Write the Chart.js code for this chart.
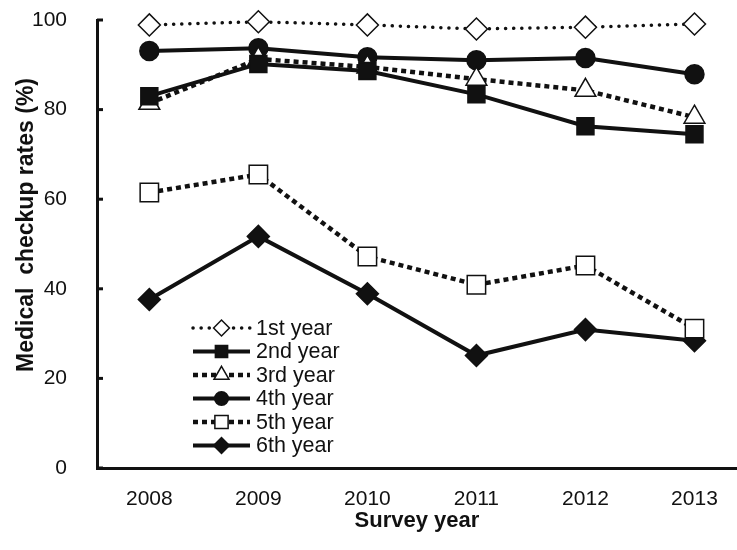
<!DOCTYPE html>
<html>
<head>
<meta charset="utf-8">
<script src="https://cdn.jsdelivr.net/npm/chart.js@4.4.0/dist/chart.umd.min.js"></script>
<style>
  html, body { margin: 0; padding: 0; background: #fff; }
  #wrap { width: 737px; height: 550px; }
</style>
</head>
<body>
<div id="wrap"><canvas id="checkupChart" width="737" height="550"></canvas></div>
<script>
const years = [2008, 2009, 2010, 2011, 2012, 2013];
const seriesNames = ['1st year', '2nd year', '3rd year', '4th year', '5th year', '6th year'];
const year1 = [98.9, 99.6, 98.9, 98.0, 98.4, 99.1];
const year2 = [83.0, 90.2, 88.6, 83.4, 76.3, 74.5];
const year3 = [81.4, 91.3, 89.5, 86.8, 84.3, 78.3];
const year4 = [93.1, 93.7, 91.7, 91.0, 91.5, 87.9];
const year5 = [61.5, 65.5, 47.2, 40.9, 45.2, 31.1];
const year6 = [37.6, 51.7, 38.9, 25.1, 30.9, 28.4];
const yTicks = [0, 20, 40, 60, 80, 100];
const yTitle = 'Medical  checkup rates (%)';

const ink = '#111';
const fontFamily = "'Liberation Sans', Arial, sans-serif";

function toPoints(values) {
    return values.map((v, i) => ({ x: years[i], y: v }));
}

// line look + marker look for each year group
const styles = [
    { dash: [0.1, 8], cap: 'round', width: 3.5, point: 'rectRot', radius: 11, fill: '#fff' },
    { dash: [], cap: 'butt', width: 4, point: 'rect', radius: 12, fill: ink },
    { dash: [5, 4], cap: 'butt', width: 4.5, point: 'triangle', radius: 12, fill: '#fff' },
    { dash: [], cap: 'butt', width: 4, point: 'circle', radius: 9.5, fill: ink },
    { dash: [5, 4], cap: 'butt', width: 4.5, point: 'rect', radius: 13, fill: '#fff' },
    { dash: [], cap: 'butt', width: 4, point: 'rectRot', radius: 11, fill: ink },
];
const allValues = [year1, year2, year3, year4, year5, year6];

const datasets = allValues.map((vals, i) => ({
    label: seriesNames[i],
    data: toPoints(vals),
    clip: false,
    borderColor: ink,
    borderWidth: styles[i].width,
    borderDash: styles[i].dash,
    borderCapStyle: styles[i].cap,
    tension: 0,
    pointStyle: styles[i].point,
    pointRadius: styles[i].radius,
    pointHoverRadius: styles[i].radius,
    pointBackgroundColor: styles[i].fill,
    pointBorderColor: ink,
    pointBorderWidth: 1.5,
}));

// legend drawn inside the plot, line sample + marker like the original figure
const insideLegend = {
    id: 'insideLegend',
    afterDatasetsDraw(chart) {
        const ctx = chart.ctx;
        const x0 = 193, x1 = 250, top = 328, rowH = 23.5;
        ctx.save();
        chart.data.datasets.forEach((ds, i) => {
            const st = styles[i];
            const y = top + i * rowH;
            ctx.strokeStyle = ink;
            ctx.lineWidth = st.width;
            ctx.lineCap = st.cap;
            ctx.setLineDash(st.dash);
            ctx.beginPath();
            ctx.moveTo(x0, y);
            ctx.lineTo(x1, y);
            ctx.stroke();
            ctx.setLineDash([]);
            ctx.fillStyle = st.fill;
            ctx.lineWidth = 1.5;
            Chart.helpers.drawPoint(ctx, {
                pointStyle: st.point,
                radius: st.radius * 0.72,
                rotation: 0,
                borderWidth: 1.5
            }, (x0 + x1) / 2, y);
            ctx.fillStyle = ink;
            ctx.font = "21.5px " + fontFamily;
            ctx.textAlign = 'left';
            ctx.textBaseline = 'middle';
            ctx.fillText(ds.label, 256, y + 1);
        });
        ctx.restore();
    }
};

// short inward tick marks on the y axis, and the rotated y title
const yAxisExtras = {
    id: 'yAxisExtras',
    afterDraw(chart) {
        const ctx = chart.ctx;
        const ys = chart.scales.y;
        const left = chart.chartArea.left;
        ctx.save();
        ctx.strokeStyle = ink;
        ctx.lineWidth = 3;
        yTicks.forEach(v => {
            const py = ys.getPixelForValue(v);
            ctx.beginPath();
            ctx.moveTo(left, py);
            ctx.lineTo(left + 6, py);
            ctx.stroke();
        });
        ctx.translate(27, 225);
        ctx.rotate(-Math.PI / 2);
        ctx.fillStyle = ink;
        ctx.font = "bold 23px " + fontFamily;
        ctx.textAlign = 'center';
        ctx.textBaseline = 'middle';
        ctx.fillText(yTitle, 0, 0);
        ctx.restore();
    }
};

new Chart(document.getElementById('checkupChart'), {
    type: 'line',
    data: { datasets: datasets },
    plugins: [insideLegend, yAxisExtras],
    options: {
        responsive: false,
        animation: false,
        layout: { autoPadding: false, padding: { top: 20, right: 0, bottom: 0, left: 0 } },
        plugins: {
            legend: { display: false },
            tooltip: { enabled: false }
        },
        scales: {
            x: {
                type: 'linear',
                min: 2007.52,
                max: 2013.39,
                afterFit: scale => {
                    scale.height = 82;
                    scale.paddingLeft = 0;
                    scale.paddingRight = 0;
                },
                grid: { display: false },
                border: { display: true, color: ink, width: 3 },
                ticks: {
                    stepSize: 1,
                    includeBounds: false,
                    color: ink,
                    padding: 11,
                    font: { family: fontFamily, size: 21 },
                    callback: v => String(v)
                },
                title: {
                    display: true,
                    text: 'Survey year',
                    color: ink,
                    font: { family: fontFamily, size: 22, weight: 'bold' },
                    padding: { top: 0, bottom: 16 }
                }
            },
            y: {
                min: 0,
                max: 100,
                afterFit: scale => {
                    scale.width = 97;
                    scale.paddingTop = 0;
                    scale.paddingBottom = 0;
                },
                afterBuildTicks: scale => { scale.ticks = yTicks.map(v => ({ value: v })); },
                grid: { display: false },
                border: { display: true, color: ink, width: 3 },
                ticks: {
                    color: ink,
                    padding: 22,
                    font: { family: fontFamily, size: 21 }
                }
            }
        }
    }
});
</script>
</body>
</html>
